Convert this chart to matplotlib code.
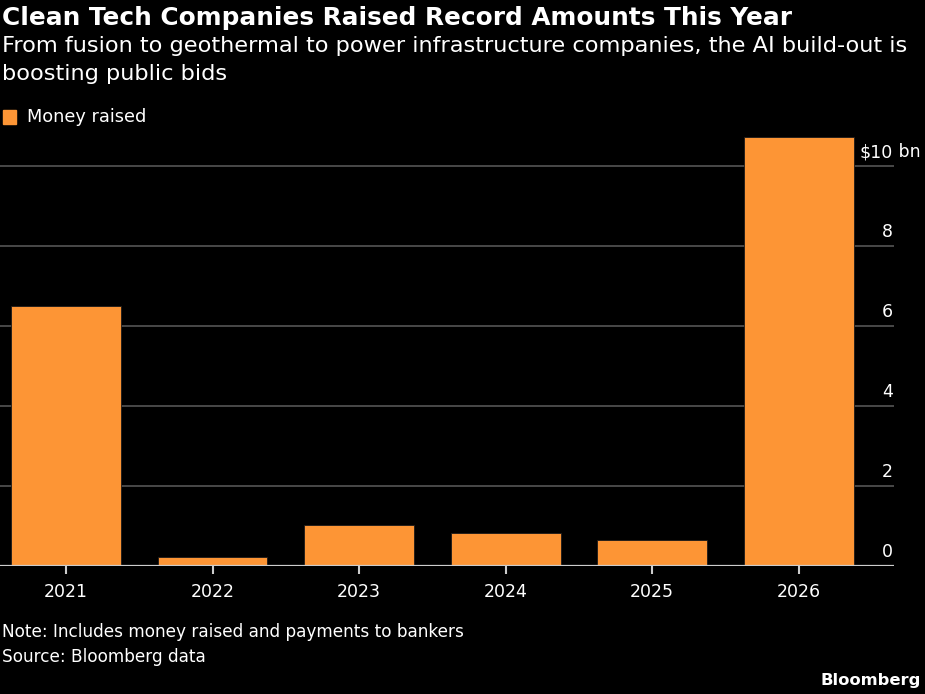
import matplotlib.pyplot as plt
from matplotlib import font_manager
import matplotlib.transforms as mtransforms

names = {f.name for f in font_manager.fontManager.ttflist}
family = 'Liberation Sans Narrow' if 'Liberation Sans Narrow' in names else 'DejaVu Sans'
plt.rcParams['font.family'] = [family, 'DejaVu Sans']

years = ['2021', '2022', '2023', '2024', '2025', '2026']
money_raised = [6.5, 0.23, 1.03, 0.82, 0.65, 10.72]
y_ticks = [0, 2, 4, 6, 8, 10]

bg = 'black'
orange = '#fd9535'

fig = plt.figure(figsize=(9.25, 6.94), dpi=100, facecolor=bg)
ax = fig.add_axes([0.0, 128 / 694, 894 / 925, (566 - 130) / 694])
ax.set_facecolor(bg)

x = list(range(len(years)))
ax.bar(x, money_raised, width=0.75, color=orange, edgecolor='#1a1a1a', linewidth=0.6, zorder=3)

ax.set_xlim(-0.45, 5.65)
ax.set_ylim(0, 10.9)

for v in y_ticks[1:]:
    ax.axhline(v, color='#555555', linewidth=1.2, zorder=1)
ax.axhline(0, color='#cccccc', linewidth=1.6, zorder=4)

for s in ax.spines.values():
    s.set_visible(False)
ax.set_yticks([])
ax.set_xticks(x)
ax.set_xticklabels(years, color='white', fontsize=12.5)
ax.tick_params(axis='x', colors='#cccccc', length=6, width=1.5, pad=6, labelcolor='white')

trans = mtransforms.blended_transform_factory(ax.transAxes, ax.transData)
for v in y_ticks:
    ax.text(893 / 894, v + 0.12, str(v) if v != 10 else '$10', transform=trans,
            ha='right', va='bottom', color='white', fontsize=12.5)
ax.text(893 / 894, 10.12, ' bn', transform=trans, ha='left', va='bottom',
        color='white', fontsize=12.5, clip_on=False)

fig.text(2 / 925, 1 - 18 / 694, 'Clean Tech Companies Raised Record Amounts This Year',
         color='white', fontsize=17.8, fontweight='bold', va='center', ha='left')
fig.text(2 / 925, 1 - 46 / 694, 'From fusion to geothermal to power infrastructure companies, the AI build-out is',
         color='white', fontsize=16.2, va='center', ha='left')
fig.text(2 / 925, 1 - 74 / 694, 'boosting public bids',
         color='white', fontsize=16.2, va='center', ha='left')

fig.patches.append(plt.Rectangle((3 / 925, 1 - 124 / 694), 13 / 925, 14 / 694,
                                 transform=fig.transFigure, color=orange, figure=fig))
fig.text(27 / 925, 1 - 117 / 694, 'Money raised', color='white', fontsize=12.8, va='center', ha='left')

fig.text(2 / 925, 1 - 632 / 694, 'Note: Includes money raised and payments to bankers',
         color='white', fontsize=12.2, va='center', ha='left')
fig.text(2 / 925, 1 - 657 / 694, 'Source: Bloomberg data',
         color='white', fontsize=12.2, va='center', ha='left')
fig.text(921 / 925, 1 - 681 / 694, 'Bloomberg', color='white', fontsize=11.8,
         fontweight='bold', va='center', ha='right')

fig.savefig('out.png', dpi=100, facecolor=bg)
